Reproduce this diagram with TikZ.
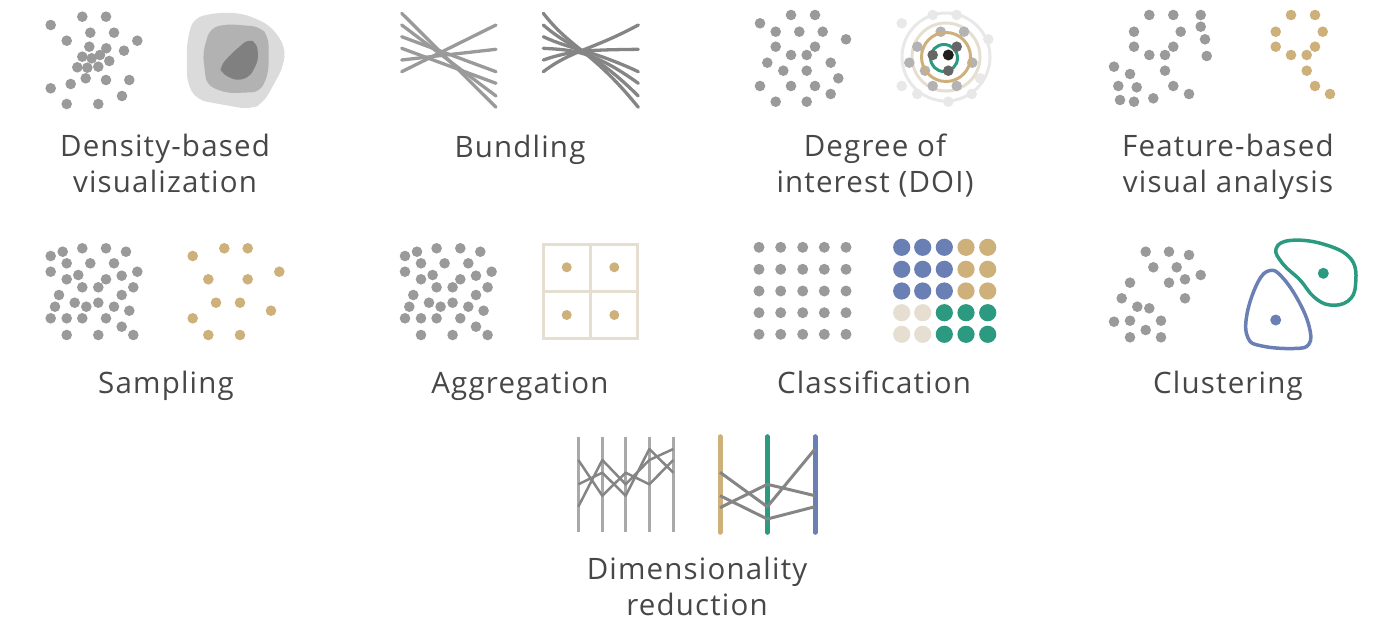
\documentclass[tikz,border=0pt]{standalone}
\usepackage{fontspec}
\setmainfont[LetterSpace=4]{Open Sans}
\usepackage{tikz}

\definecolor{ptgray}{HTML}{9A9A9A}
\definecolor{linegray}{HTML}{858585}
\definecolor{darkdot}{HTML}{666666}
\definecolor{middot}{HTML}{B3B3B3}
\definecolor{lightdot}{HTML}{E8E8E8}
\definecolor{goldc}{HTML}{CDB07A}
\definecolor{beigec}{HTML}{E6DFD1}
\definecolor{tealc}{HTML}{2B9A80}
\definecolor{bluec}{HTML}{6A80B5}
\definecolor{labelc}{HTML}{474747}

\begin{document}
\begin{tikzpicture}[
    x=1pt, y=-1pt,
    label/.style={align=center, anchor=base, text=labelc, inner sep=0pt,
        font=\fontsize{29.5}{35.5}\selectfont},
    dot/.style={fill=ptgray},
    axis/.style={draw=ptgray!85, line width=2.5pt},
    poly/.style={draw=linegray, line width=2.5pt, line join=round},
    ring/.style={line width=3pt}
]
\useasboundingbox (0,0) rectangle (1399,626);

% density-based visualization
\foreach \x/\y in {50.7/25, 82.3/16.7, 106/16.7, 66.7/40.7, 90.3/32.7, 114/32.7, 137.3/40.7,
    89.3/46.7, 106.3/48.3, 124/50.7, 82.3/56.7, 91.7/58.3, 100/55, 109.3/61, 77.3/67.3,
    87.3/67.7, 98.3/66.7, 85.7/78.3, 106/80, 129.3/80, 50.7/88.3, 70.7/84, 66.7/104,
    98.3/104, 122/96}
    \fill[dot] (\x,\y) circle (5.3pt);
\fill[black!14, rounded corners=10pt] (193,18) -- (217,12.5) -- (243,13.3) -- (270,25) -- (285.5,46.7)
    -- (283.5,66.7) -- (263.3,103.3) -- (250,109.5) -- (196.7,100) -- (187,83.3) -- (186.7,43.3) -- cycle;
\fill[black!30, rounded corners=8pt] (210,28.3) -- (226.7,24) -- (260,26.7) -- (268.5,36.7) -- (268.5,73.3)
    -- (260,92) -- (226.7,93.3) -- (206.5,85) -- (202.7,53.3) -- cycle;
\fill[black!50, rounded corners=6pt] (230,55) -- (248.3,39) -- (257,43.3) -- (258.5,60) -- (250,76.7)
    -- (236.7,81) -- (221.5,73.3) -- (220,66.7) -- cycle;
\node[label] (lblDensity) at (165,192) {Density-based\\visualization};

% bundling
\foreach \ya/\yb in {13.3/107.3, 25/96, 36.7/71.7, 48.3/83.3, 60/49.3, 71.7/25}
    \draw[ptgray, line width=3.3pt, line cap=round] (401.7,\ya) -- (496,\yb);
\foreach \ya/\yb in {13.3/107.3, 25/96, 36.7/71.7, 48.3/83.3, 60/49.3, 71.7/25}
    \draw[linegray, line width=3.3pt, line cap=round] (543.3,\ya) .. controls (572,50) and (592,50) .. (638.3,\yb);
\node[label] (lblBundling) at (520,157) {Bundling};

% degree of interest
\foreach \x/\y in {760/23.3, 791/15, 815/15, 775.7/31.7, 799.3/31.7, 822.7/31.7, 846/39.3, 775.7/46.7,
    815/46.7, 791/55, 806.7/55, 767.3/62.7, 830.7/62.7, 783.3/70.7, 806.7/70.7, 838.3/78.3, 760/86,
    791/86, 815/86, 830.7/94, 775.7/101.7, 806.7/101.7}
    \fill[dot] (\x,\y) circle (5.3pt);
\foreach \x/\y in {901.7/23.3, 932.7/15, 956.7/15, 988.3/39.3, 980/78.3, 901.7/86, 917.3/94, 948.3/101.7, 971.7/94}
    \fill[lightdot] (\x,\y) circle (5.3pt);
\draw[ring, lightdot] (946,57) circle (44pt);
\draw[ring, beigec] (946,57) circle (34pt);
\foreach \x/\y in {940.7/31.7, 964/31.7, 917.3/46.7, 909.3/62.7, 925/70.7, 972.3/62.7, 932.7/86, 956.7/86}
    \fill[middot] (\x,\y) circle (5.3pt);
\draw[ring, goldc] (946,57) circle (24.5pt);
\draw[ring, tealc] (944,58) circle (13.5pt);
\foreach \x/\y in {932.7/55, 956.7/46.7, 948.3/70.7}
    \fill[darkdot] (\x,\y) circle (5.3pt);
\fill[black!88] (948.3,55) circle (5.5pt);
\node[label] (lblDOI) at (875,192) {Degree of\\interest (DOI)};

% feature-based visual analysis
\foreach \x/\y in {1149.3/15, 1173.3/15, 1200.7/15, 1134/31.7, 1180.7/31.7, 1200.7/26.7, 1205/39.3,
    1134/46.7, 1173.3/46.7, 1149.3/55, 1165/55, 1206.7/56, 1114/66.7, 1130/74, 1165/70.7,
    1118.3/86, 1136.7/87.3, 1173.3/86, 1120/100, 1134/101.7, 1153.3/98.3, 1189/94}
    \fill[dot] (\x,\y) circle (5.3pt);
\foreach \x/\y in {1291/15, 1315/15, 1275.7/31.7, 1322.7/31.7, 1275.7/46.7, 1315/46.7, 1291/55,
    1306.7/55, 1306.7/70.7, 1315/86, 1330/94}
    \fill[goldc] (\x,\y) circle (5.3pt);
\node[label] (lblFeature) at (1228,192) {Feature-based\\visual analysis};

% sampling and aggregation
\foreach \dx in {0, 354.3}
    \foreach \x/\y in {50.7/256, 62.7/251.7, 82.3/248.3, 106/248.3, 126/251.7, 66.7/263.3, 90.3/263.3,
        114/263.3, 50.7/271.7, 78.3/275, 66.7/279.3, 106/279.3, 121.7/275.7, 137.3/271.7, 82.3/287.3,
        98.3/287.3, 133.3/287.3, 59/295, 121.7/295, 55/306.7, 74.7/302.7, 86.3/306.7, 98.3/302.7,
        114/306.7, 129.3/310.7, 50.7/318.3, 66.7/318.3, 82.3/318.3, 106/318.3, 121.7/326.7,
        66.7/335, 98.3/335, 133.3/335}
        \fill[dot] (\x+\dx,\y) circle (5.3pt);
\foreach \x/\y in {192.7/256, 224.3/248.3, 247.7/248.3, 279.3/271.7, 208.3/279.3, 247.7/279.3,
    216/302.7, 240/302.7, 271/310.7, 192.7/318.3, 208.3/335, 240/335}
    \fill[goldc] (\x,\y) circle (5.3pt);
\node[label] (lblSampling) at (166,393) {Sampling};
\draw[beigec, line width=3pt] (543.3,244) rectangle (637.7,338.3)
    (590,244) -- (590,338.3) (543.3,291.2) -- (637.7,291.2);
\foreach \x/\y in {566.7/267.3, 614.3/267.3, 566.7/315, 614.3/315}
    \fill[goldc] (\x,\y) circle (5pt);
\node[label] (lblAggregation) at (520,393) {Aggregation};

% classification
\foreach \x in {759, 780.7, 802.7, 824.3, 846}
    \foreach \y in {247.3, 269.3, 291, 312.7, 334.3}
        \fill[dot] (\x,\y) circle (5.5pt);
\foreach \x/\c in {901.7/bluec, 922.7/bluec, 944.3/bluec, 966/goldc, 987.7/goldc}
    \foreach \y in {247.3, 269.3, 291}
        \fill[\c] (\x,\y) circle (8.6pt);
\foreach \x/\c in {901.7/beigec, 922.7/beigec, 944.3/tealc, 966/tealc, 987.7/tealc}
    \foreach \y in {312.7, 334.3}
        \fill[\c] (\x,\y) circle (8.6pt);
\node[label] (lblClassification) at (874,393) {Classification};

% clustering
\foreach \x/\y in {1145.7/251.7, 1169/251.7, 1189/255, 1153.3/267.3, 1176.7/267.3, 1130/282.7,
    1169/282.7, 1185/279.3, 1200.7/275, 1185/298.3, 1121.7/298.3, 1137.3/306.7, 1149.3/308.3,
    1114/321.7, 1130/320.7, 1161/320.7, 1145.7/330, 1130/337.3, 1161/337.3}
    \fill[dot] (\x,\y) circle (5.3pt);
\draw[tealc, line width=3.5pt] plot[smooth cycle, tension=0.7] coordinates {(1276,249) (1290,240.5)
    (1323,244) (1351,259) (1355.5,285) (1348,301) (1330,305) (1314,297) (1300,280) (1283,264)};
\draw[bluec, line width=3.5pt] plot[smooth cycle, tension=0.7] coordinates {(1270,270.5) (1282,277)
    (1298,300) (1309,326) (1309,344) (1294,348.5) (1262,346) (1248,338) (1247,314) (1258,282)};
\fill[tealc] (1323.3,273.3) circle (5.5pt);
\fill[bluec] (1275.7,320) circle (5.5pt);
\node[label] (lblClustering) at (1228,393) {Clustering};

% dimensionality reduction
\foreach \x in {578.3, 602.3, 625.7, 649.3, 673.3}
    \draw[axis] (\x,436.7) -- (\x,532.3);
\draw[poly] (578.3,460) -- (602.3,495.7) -- (625.7,472.7) -- (649.3,484.3) -- (673.3,460);
\draw[poly] (578.3,484.3) -- (602.3,472.7) -- (625.7,495.7) -- (649.3,449) -- (673.3,472.7);
\draw[poly] (578.3,506.7) -- (602.3,460) -- (625.7,484.3) -- (649.3,460) -- (673.3,449);
\draw[goldc, line width=5pt, line cap=round] (720,436.7) -- (720,532.3);
\draw[tealc, line width=5pt, line cap=round] (767.3,436.7) -- (767.3,532.3);
\draw[bluec, line width=5pt, line cap=round] (815,436.7) -- (815,532.3);
\draw[poly, line width=3pt] (720,472.3) -- (767.3,506.7) -- (815,449);
\draw[poly, line width=3pt] (720,495.7) -- (767.3,519) -- (815,506.7);
\draw[poly, line width=3pt] (720,507.7) -- (767.3,484.3) -- (815,495.7);
\node[label] (lblDimred) at (697,615) {Dimensionality\\reduction};
\end{tikzpicture}
\end{document}
